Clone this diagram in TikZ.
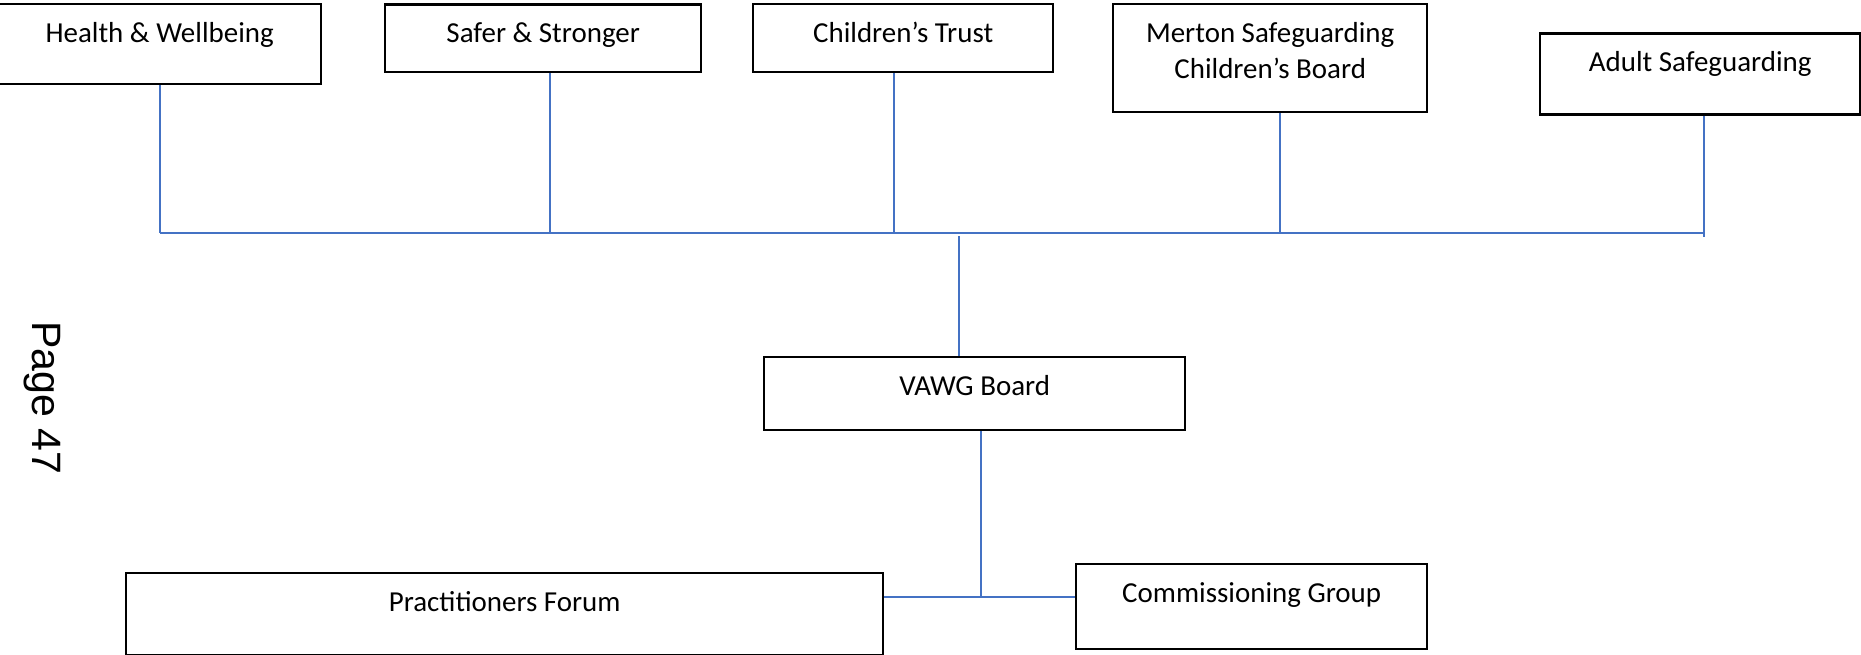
\documentclass[tikz,border=0pt]{standalone}
\usepackage{fontspec}
\setmainfont{Carlito}
\newfontfamily\pagefont{Liberation Sans}
\usetikzlibrary{positioning}
\definecolor{linkblue}{RGB}{68,114,196}

\begin{document}
\begin{tikzpicture}[x=0.38pt, y=-0.38pt,
  every node/.style={font=\fontsize{11}{13.7}\selectfont},
  orgbox/.style 2 args={draw, line width=0.9pt, anchor=north west, inner sep=0pt,
    minimum width=#1*0.38pt, minimum height=#2*0.38pt},
  boxtext/.style={anchor=north, inner sep=0pt, align=center},
  link/.style={draw=linkblue, line width=0.8pt}]
  \useasboundingbox (0,0) rectangle (1861,655);

  % Partner boards along the top
  \node[orgbox={323}{80}] (hw) at (-3,2.7) {};
  \node[boxtext, below=7.2pt of hw.north] (hwt) {Health \& Wellbeing};
  \node[orgbox={316}{67.4}] (ss) at (384,3.3) {};
  \node[boxtext, below=7.2pt of ss.north] (sst) {Safer \& Stronger};
  \node[orgbox={300}{68}] (ct) at (752,2.7) {};
  \node[boxtext, below=7.2pt of ct.north] (ctt) {Children’s Trust};
  \node[orgbox={314}{108}] (mscb) at (1112,3) {};
  \node[boxtext, below=7.2pt of mscb.north] (mscbt) {Merton Safeguarding\\Children’s Board};
  \node[orgbox={320}{81}] (as) at (1539,32.3) {};
  \node[boxtext, below=7.2pt of as.north] (ast) {Adult Safeguarding};

  % VAWG board and its groups
  \node[orgbox={421}{73}] (vawg) at (763,356) {};
  \node[boxtext, below=7.2pt of vawg.north] (vawgt) {VAWG Board};
  \node[orgbox={757}{82}] (pf) at (125,572) {};
  \node[boxtext, below=7.2pt of pf.north] (pft) {Practitioners Forum};
  \node[orgbox={351}{85}] (cg) at (1075,563) {};
  \node[boxtext, below=7.2pt of cg.north] (cgt) {Commissioning Group};

  % Page number
  \node[font=\pagefont\fontsize{15.6}{18}\selectfont, rotate=-90, inner sep=0pt]
    (pagenum) at (42,398) {Page 47};

  % Connectors
  \coordinate (bus) at (959,233.3);
  \coordinate (split) at (981,597);
  \draw[link] (hw.south) -- (hw.south |- bus);
  \draw[link] ([xshift=2.5pt]ss.south) -- ([xshift=2.5pt]ss.south |- bus);
  \draw[link] ([xshift=-3.5pt]ct.south) -- ([xshift=-3.5pt]ct.south |- bus);
  \draw[link] ([xshift=3.8pt]mscb.south) -- ([xshift=3.8pt]mscb.south |- bus);
  \draw[link] ([xshift=1.5pt]as.south) -- ([xshift=1.5pt,yshift=-1.5pt]as.south |- bus);
  \draw[link] (hw.south |- bus) -- ([xshift=1.5pt]as.south |- bus);
  \draw[link] ([yshift=-1.1pt]bus) -- (bus |- vawg.north);
  \draw[link] (vawg.south -| split) -- (split);
  \draw[link] (pf.east |- split) -- (cg.west |- split);
\end{tikzpicture}
\end{document}
